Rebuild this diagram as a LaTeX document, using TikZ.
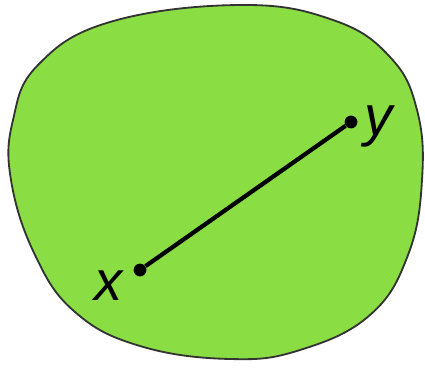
\documentclass[tikz,border=0pt]{standalone}
\usepackage{fontspec}
\setmainfont{Liberation Sans}
\usetikzlibrary{positioning}
\definecolor{setgreen}{RGB}{138,222,67}

\begin{document}
\begin{tikzpicture}[
        x=0.025cm, y=-0.025cm,
        font=\fontsize{40}{40}\selectfont\itshape,
        blob/.style={draw=black!80, line width=1.3pt, fill=setgreen},
        seg/.style={line width=3pt, black},
        dot/.style={circle, fill=black, inner sep=0pt, minimum size=0.32cm}
    ]
        \useasboundingbox (0,0) rectangle (425,367);
        % convex set
        \draw[blob] plot[smooth cycle, tension=0.7] coordinates {
            (240,5) (333,20) (390,57) (417,110) (422,180) (408,255)
            (370,315) (300,350) (230,359) (140,346) (75,312) (35,255)
            (11,180) (13,120) (38,65) (110,22)};
        \node[dot] (px) at (140,270) {};
        \node[dot] (py) at (351,122) {};
        \draw[seg] (px) -- (py);
        \node[left=0.15cm of px, yshift=-0.4cm] (lx) {x};
        \node[right=0.05cm of py, yshift=-0.1cm] (ly) {y};
    \end{tikzpicture}
\end{document}
